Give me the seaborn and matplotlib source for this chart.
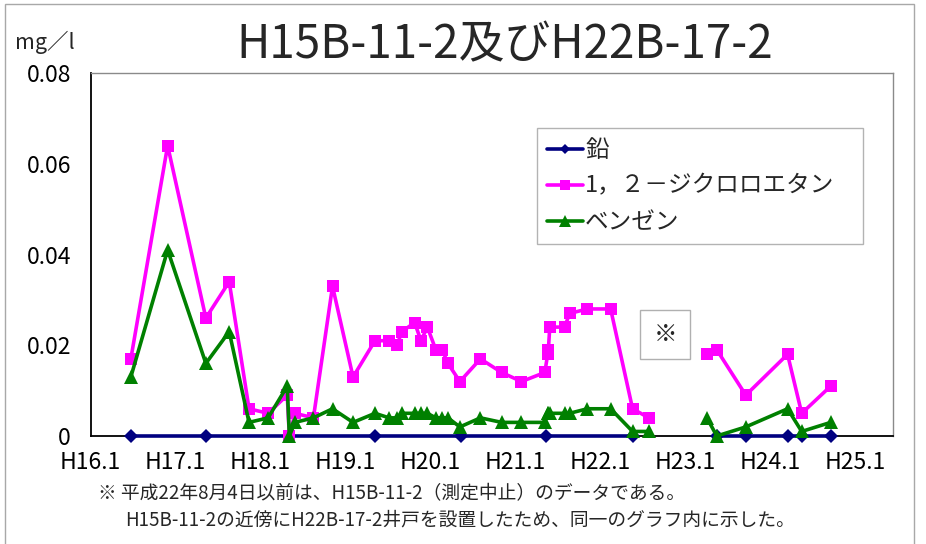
import numpy as np
import pandas as pd
import matplotlib.pyplot as plt
import seaborn as sns
from matplotlib.lines import Line2D
from matplotlib.patches import Rectangle

# x values are months counted from H16.1 (Jan 2004)
voc_months = [5.7, 10.9, 16.3, 19.6, 22.4, 25.1, 27.8, 28.1, 28.9, 31.5, 34.2, 37.1,
              40.2, 42.2, 43.3, 44.0, 45.8, 46.7, 47.6, 48.8, 49.7, 50.5, 52.2, 55.1,
              58.1, 60.9, 64.2, 64.6, 64.7, 64.9, 67.0, 67.7, 70.2, 73.5, 76.6, 78.9,
              87.1, 88.5, 92.6, 98.5, 100.5, 104.6]
dce = [0.017, 0.064, 0.026, 0.034, 0.006, 0.005, 0.009, 0.000, 0.005, 0.004, 0.033, 0.013,
       0.021, 0.021, 0.020, 0.023, 0.025, 0.021, 0.024, 0.019, 0.019, 0.016, 0.012, 0.017,
       0.014, 0.012, 0.014, 0.018, 0.019, 0.024, 0.024, 0.027, 0.028, 0.028, 0.006, 0.004,
       0.018, 0.019, 0.009, 0.018, 0.005, 0.011]
benzene = [0.013, 0.041, 0.016, 0.023, 0.003, 0.004, 0.011, 0.000, 0.003, 0.004, 0.006, 0.003,
           0.005, 0.004, 0.004, 0.005, 0.005, 0.005, 0.005, 0.004, 0.004, 0.004, 0.002, 0.004,
           0.003, 0.003, 0.003, 0.005, 0.005, 0.005, 0.005, 0.005, 0.006, 0.006, 0.001, 0.001,
           0.004, 0.000, 0.002, 0.006, 0.001, 0.003]
lead_months = [5.7, 16.3, 40.2, 52.3, 64.3, 76.6, 88.5, 92.6, 98.5, 100.5, 104.6]
lead = [0.0, 0.0, 0.0, 0.0, 0.0, 0.0, 0.0, 0.0, 0.0, 0.0, 0.0]

tick_labels = ['H16.1', 'H17.1', 'H18.1', 'H19.1', 'H20.1', 'H21.1', 'H22.1', 'H23.1', 'H24.1', 'H25.1']
series_names = ['鉛', '1，２－ジクロロエタン', 'ベンゼン']

# well switch (H15B-11-2 -> H22B-17-2) between H22.8 and H23.4
switch_month = 82

frames = []
for name, xs, ys in [(series_names[0], lead_months, lead),
                     (series_names[1], voc_months, dce),
                     (series_names[2], voc_months, benzene)]:
    d = pd.DataFrame({'month': xs, 'value': ys})
    d['series'] = name
    d['well'] = np.where(d['month'] < switch_month, 'H15B', 'H22B')
    frames.append(d)
df = pd.concat(frames, ignore_index=True)

sns.set_theme(style='white')
plt.rcParams['font.family'] = ['Noto Sans CJK JP', 'DejaVu Sans']

fig = plt.figure(figsize=(9.26, 5.44), dpi=100)
ax = fig.add_axes([90.5 / 926, 1 - 436 / 544, (893 - 90.5) / 926, (436 - 73) / 544])

styles = {
    series_names[0]: dict(color='#000080', marker='D', markersize=7, linewidth=2.6),
    series_names[1]: dict(color='#FF00FF', marker='s', markersize=8.5, linewidth=2.6),
    series_names[2]: dict(color='#008000', marker='^', markersize=9.5, linewidth=2.6),
}
for i, name in enumerate(series_names):
    st = styles[name]
    sns.lineplot(data=df[df['series'] == name], x='month', y='value', units='well',
                 estimator=None, sort=True, ax=ax, legend=False,
                 color=st['color'], marker=st['marker'], markersize=st['markersize'],
                 markeredgewidth=0, linewidth=st['linewidth'], clip_on=False, zorder=3 + i)

ax.set_xlim(0, 113.4)
ax.set_ylim(0, 0.08)
ax.set_xticks(np.arange(0, 109, 12))
ax.set_xticklabels(tick_labels)
ax.set_yticks([0, 0.02, 0.04, 0.06, 0.08])
ax.set_yticklabels(['0', '0.02', '0.04', '0.06', '0.08'])
ax.set_xlabel('')
ax.set_ylabel('')
ax.tick_params(axis='both', direction='in', length=7, width=1, color='#9a9a9a',
               labelsize=16.5, labelcolor='black')
ax.tick_params(axis='x', pad=11)
ax.tick_params(axis='y', pad=14)
for side in ['left', 'bottom']:
    ax.spines[side].set_color('black')
    ax.spines[side].set_linewidth(1.3)
for side in ['top', 'right']:
    ax.spines[side].set_color('#8a8a8a')
    ax.spines[side].set_linewidth(1.0)

handles = [Line2D([], [], color=styles[n]['color'], marker=styles[n]['marker'],
                  markersize=styles[n]['markersize'] - 1.5, markeredgewidth=0, linewidth=2.6)
           for n in series_names]
leg = ax.legend(handles, series_names, loc='upper left',
                bbox_to_anchor=(0.556, 0.534, 0.407, 0.314), mode='expand',
                fontsize=17, frameon=True, fancybox=False, handlelength=1.5,
                handletextpad=0.1, labelspacing=0.55, borderpad=0.45, borderaxespad=0)
leg.get_frame().set_edgecolor('#a0a0a0')
leg.get_frame().set_linewidth(1.0)
leg.set_zorder(10)

ax.text(81.2, 0.0223, '※', fontsize=17, ha='center', va='center',
        bbox=dict(boxstyle='square,pad=0.55', facecolor='white', edgecolor='#b0b0b0', linewidth=1))

fig.text(505 / 926, 1 - 45 / 544, 'H15B-11-2及びH22B-17-2', fontsize=33, ha='center', va='center')
fig.text(15 / 926, 1 - 42 / 544, 'mg／l', fontsize=15.5, ha='left', va='center')
fig.text(98 / 926, 1 - 494 / 544, '※ 平成22年8月4日以前は、H15B-11-2（測定中止）のデータである。',
         fontsize=13.5, ha='left', va='center')
fig.text(125 / 926, 1 - 520 / 544, 'H15B-11-2の近傍にH22B-17-2井戸を設置したため、同一のグラフ内に示した。',
         fontsize=13.5, ha='left', va='center')

fig.patches.append(Rectangle((5 / 926, -0.05), (914 - 5) / 926, 1 + 0.05 - 4 / 544,
                             transform=fig.transFigure, fill=False,
                             edgecolor='#a8a8a8', linewidth=1))

fig.savefig('out.png', dpi=100)
